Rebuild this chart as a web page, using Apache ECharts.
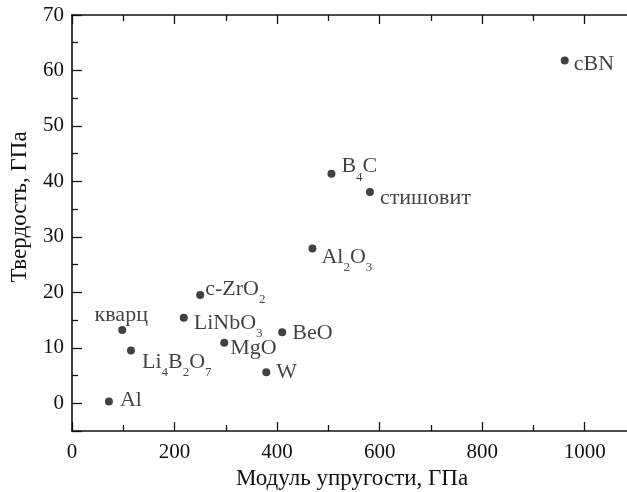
<!DOCTYPE html>
<html>
<head>
<meta charset="utf-8">
<script src="https://cdn.jsdelivr.net/npm/echarts@6/dist/echarts.min.js"></script>
<style>
  html, body { margin: 0; padding: 0; background: #fff; }
  #chart { width: 627px; height: 492px; }
</style>
</head>
<body>
<div id="chart"></div>
<script>
// материалы: модуль упругости (ГПа) и твердость (ГПа)
var names = ['Al', 'кварц', 'Li{s|4}B{s|2}O{s|7}', 'LiNbO{s|3}', 'c-ZrO{s|2}', 'MgO', 'W', 'BeO',
  'Al{s|2}O{s|3}', 'B{s|4}C', 'стишовит', 'cBN'];
var modulus = [72, 98, 115, 218, 250, 297, 379, 410, 469, 506, 581, 961];
var hardness = [0.3, 13.2, 9.5, 15.4, 19.5, 10.9, 5.6, 12.8, 27.9, 41.4, 38.1, 61.8];

// сдвиги подписей относительно точки
var labelOffsets = [
  [2, -1], [-1, 9], [2, 12], [1, 5], [-4, -6], [-3, 5],
  [1, 0], [1, 1], [0, 9], [1, -7], [1, 6], [0, 4]
];

var font = 'Liberation Serif';
var black = '#111';

var chart = echarts.init(document.getElementById('chart'));

var points = modulus.map(function (x, i) {
  var label = {
    offset: labelOffsets[i]
  };
  if (i === 1) {
    label.position = 'top';
    label.distance = 3;
  }
  return { value: [x, hardness[i]], name: names[i], label: label };
});

var lineStyle = { color: black, width: 1.6 };
var tickStyle = { color: black, width: 1.3 };

function xAxis(pos, showLabels) {
  return {
    type: 'value',
    position: pos,
    min: 0,
    max: 1100,
    splitNumber: 5,
    axisLine: { onZero: false, lineStyle: lineStyle },
    splitLine: { show: false },
    axisTick: { inside: true, length: 9, lineStyle: tickStyle },
    minorTick: { show: true, splitNumber: 2, length: 6, lineStyle: tickStyle },
    axisLabel: {
      show: showLabels,
      margin: 11,
      fontFamily: font, fontSize: 21, color: black,
      formatter: function (v) { return v > 1000 ? '' : String(v); }
    }
  };
}

var xMain = xAxis('bottom', true);
xMain.name = 'Модуль упругости, ГПа';
xMain.nameLocation = 'middle';
xMain.nameGap = 36;
xMain.nameTextStyle = { fontFamily: font, fontSize: 23, color: black, padding: [0, 4, 0, 0] };

var option = {
  animation: false,
  backgroundColor: '#fff',
  grid: { left: 72, right: -9, top: 15, bottom: 61, outerBoundsMode: 'none' },
  xAxis: [xMain, xAxis('top', false)],
  yAxis: {
    type: 'value',
    position: 'left',
    min: -5,
    max: 70,
    splitNumber: 8,
    name: 'Твердость, ГПа',
    nameLocation: 'middle',
    nameGap: 41,
    nameTextStyle: { fontFamily: font, fontSize: 23, color: black, padding: [0, 0, 0, 32] },
    axisLine: { onZero: false, lineStyle: lineStyle },
    splitLine: { show: false },
    axisTick: { inside: true, length: 10, lineStyle: tickStyle },
    minorTick: { show: true, splitNumber: 2, length: 6, lineStyle: tickStyle },
    axisLabel: {
      margin: 8, fontFamily: font, fontSize: 21, color: black,
      formatter: function (v) { return v < 0 ? '' : String(v); }
    }
  },
  series: [{
    type: 'scatter',
    xAxisIndex: 0,
    yAxisIndex: 0,
    symbol: 'circle',
    symbolSize: 8,
    itemStyle: { color: black },
    label: {
      show: true,
      position: 'right',
      distance: 5,
      formatter: '{b}',
      fontFamily: font,
      fontSize: 22,
      color: black,
      lineHeight: 34,
      rich: {
        s: { fontFamily: font, fontSize: 13, lineHeight: 13, padding: [21, 0, 0, 0], color: black }
      }
    },
    emphasis: { disabled: true },
    data: points
  }]
};

chart.setOption(option);
</script>
</body>
</html>
